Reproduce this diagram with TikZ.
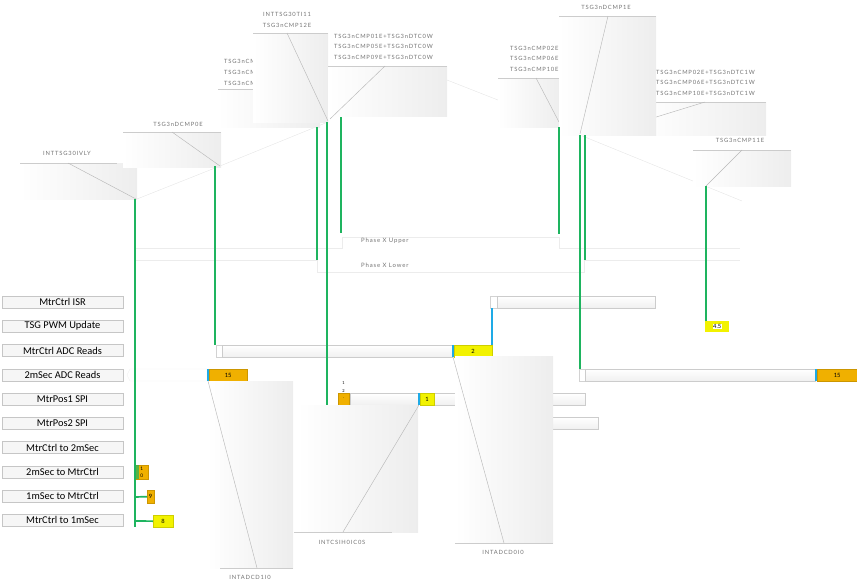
\documentclass[tikz,border=0pt]{standalone}
\usepackage{fontspec}
\setmainfont{Lato}
\newfontfamily\lblfont{Carlito}
\newfontfamily\tagfont[LetterSpace=14]{Lato}
\definecolor{trgreen}{RGB}{30,180,95}
\definecolor{trblue}{RGB}{30,170,230}
\definecolor{trorange}{RGB}{240,176,0}
\definecolor{tryellow}{RGB}{242,242,0}
\begin{document}
\begin{tikzpicture}[x=1pt,y=-1pt,
  grn/.style={draw=trgreen,line width=1.7pt},
  blu/.style={draw=trblue,line width=1.6pt},
  faint/.style={draw=gray!20,line width=0.4pt},
  frame/.style={draw=gray!15,line width=0.5pt},
  ptr/.style={draw=gray!55,line width=0.45pt},
  cshade/.style={left color=white,right color=gray!14},
  cedge/.style={draw=gray!40,line width=0.6pt},
  tag/.style={font=\tagfont\fontsize{5.8}{6.5}\selectfont,text=gray!90!black,inner sep=0pt},
  tagl/.style={tag,anchor=west},
  rowlbl/.style={draw=gray!45,fill=gray!7,minimum width=121pt,minimum height=12pt,inner sep=0pt,
    font=\lblfont\fontsize{10.4}{10.5}\selectfont},
  barbox/.style={draw=gray!40,top color=white,bottom color=gray!12,line width=0.5pt,inner sep=0pt},
  sqbox/.style={draw=gray!35,fill=white,line width=0.5pt},
  obox/.style={fill=trorange,draw=trorange!85!black,line width=0.3pt,inner sep=0pt,
    font=\fontsize{5.8}{6}\selectfont},
  ybox/.style={fill=tryellow,draw=tryellow!85!black,line width=0.3pt,inner sep=0pt,
    font=\fontsize{5.8}{6}\selectfont},
  phase/.style={font=\tagfont\fontsize{6}{6.5}\selectfont,text=gray!90!black,anchor=west,inner sep=0pt}]
\useasboundingbox (0,0) rectangle (857,584);

% ---- faint connecting lines between anchors ----
\draw[faint] (137,199) -- (220,166) -- (328,122);
\draw[faint] (447,80) -- (559,124);
\draw[faint] (580,135) -- (742,201);

% ---- phase frames ----
\draw[frame] (135,248) -- (342,248) -- (342,237) -- (559,237) -- (559,248) -- (740,248);
\draw[frame] (135,260) -- (317,260) -- (317,272) -- (584,272) -- (584,260) -- (740,260);
\node[phase] (pup) at (361,241) {Phase X Upper};
\node[phase] (plo) at (361,265) {Phase X Lower};

% ---- upper callouts ----
% INTTSG30IVLY
\shade[cshade] (20,163) rectangle (137,199);
\draw[cedge] (20,163) -- (117,163);
\draw[ptr] (68,163) -- (136,199);
\coordinate (c1) at (135,199);
\node[tag] (t1) at (67,153) {INTTSG30IVLY};
% TSG3nDCMP0E
\shade[cshade] (123,132) rectangle (221,167);
\draw[cedge] (123,132) -- (221,132);
\draw[ptr] (172,132) -- (220,166);
\coordinate (c2) at (215,166);
\node[tag] (t2) at (178,124) {TSG3nDCMP0E};
% partly covered callout
\node[tagl] (t3a) at (224,61) {TSG3nCMP03E+TSG3nDTC0U};
\node[tagl] (t3b) at (224,72) {TSG3nCMP07E+TSG3nDTC0U};
\node[tagl] (t3c) at (224,83) {TSG3nCMP11E+TSG3nDTC0U};
\shade[cshade] (218,89) rectangle (320,127);
\draw[cedge] (218,89) -- (253,89);
\coordinate (c3) at (317,127);
% INTTSG30TI11 / TSG3nCMP12E
\shade[cshade] (253,33) rectangle (328,122);
\draw[cedge] (253,33) -- (328,33);
\draw[ptr] (287,33) -- (328,121);
\coordinate (c4) at (327,122);
\node[tag] (t4a) at (287,14) {INTTSG30TI11};
\node[tag] (t4b) at (287,25) {TSG3nCMP12E};
% TSG3nCMP01E+TSG3nDTC0W ...
\shade[cshade] (328,66) rectangle (447,116);
\draw[cedge] (328,66) -- (447,66);
\draw[ptr] (385,66) -- (330,119);
\coordinate (c5) at (341,117);
\node[tagl] (t5a) at (334,36) {TSG3nCMP01E+TSG3nDTC0W};
\node[tagl] (t5b) at (334,46) {TSG3nCMP05E+TSG3nDTC0W};
\node[tagl] (t5c) at (334,57) {TSG3nCMP09E+TSG3nDTC0W};
% partly covered callout on the right
\node[tagl] (t6a) at (510,48) {TSG3nCMP02E+TSG3nDTC1U};
\node[tagl] (t6b) at (510,58) {TSG3nCMP06E+TSG3nDTC1U};
\node[tagl] (t6c) at (510,69) {TSG3nCMP10E+TSG3nDTC1U};
\shade[cshade] (498,78) rectangle (562,127);
\draw[cedge] (498,78) -- (560,78);
\draw[ptr] (536,78) -- (559,122);
\coordinate (c6) at (559,127);
% TSG3nCMP02E+TSG3nDTC1W ...
\node[tagl] (t8a) at (656,72) {TSG3nCMP02E+TSG3nDTC1W};
\node[tagl] (t8b) at (656,82) {TSG3nCMP06E+TSG3nDTC1W};
\node[tagl] (t8c) at (656,93) {TSG3nCMP10E+TSG3nDTC1W};
\shade[cshade] (640,102) rectangle (766,135);
\draw[cedge] (640,102) -- (766,102);
\draw[ptr] (705,102) -- (640,122);
% TSG3nDCMP1E
\shade[cshade] (559,16) rectangle (656,135);
\draw[cedge] (559,16) -- (656,16);
\draw[ptr] (608,16) -- (580,134);
\coordinate (c7) at (580,135);
\coordinate (c7b) at (585,135);
\node[tag] (t7) at (606,7) {TSG3nDCMP1E};
% TSG3nCMP11E
\shade[cshade] (693,150) rectangle (791,186);
\draw[cedge] (693,150) -- (791,150);
\draw[ptr] (742,150) -- (706,186);
\coordinate (c9) at (706,186);
\node[tag] (t9) at (740,140) {TSG3nCMP11E};

% ---- row labels ----
\foreach \nm/\yy/\txt in {r1/302/MtrCtrl ISR, r2/326.2/TSG PWM Update, r3/350.5/MtrCtrl ADC Reads,
  r4/374.8/2mSec ADC Reads, r5/399/MtrPos1 SPI, r6/423.2/MtrPos2 SPI, r7/447.5/MtrCtrl to 2mSec,
  r8/471.8/2mSec to MtrCtrl, r9/496/1mSec to MtrCtrl, r10/520.3/MtrCtrl to 1mSec}
  \node[rowlbl] (\nm) at (62.5,\yy) {\txt};

% ---- bars ----
% MtrCtrl ISR
\draw[sqbox] (490,296) rectangle (497,308);
\node[barbox,minimum width=158pt,minimum height=12pt,anchor=north west] (isr) at (497,296) {};
\coordinate (isrsq) at (492,308);
% MtrCtrl ADC Reads
\draw[sqbox] (216,345) rectangle (222,357);
\node[barbox,minimum width=230pt,minimum height=12pt,anchor=north west] (adc) at (222,345) {};
\fill[trblue] (451.5,345) rectangle (454,357);
\node[ybox,minimum width=38pt,minimum height=12pt,anchor=north west] (adcy) at (454,345) {2};
% 2mSec ADC Reads
\draw[draw=gray!12,fill=white] (130,369) -- (207,369) -- (207,381) -- (130,381) -- (127,375) -- cycle;
\fill[trblue] (206.5,369) rectangle (209,381);
\node[obox,minimum width=38pt,minimum height=12pt,anchor=north west] (ms2a) at (209,369) {15};
\draw[sqbox] (579,369) rectangle (585,381);
\node[barbox,minimum width=230pt,minimum height=12pt,anchor=north west] (ms2b) at (585,369) {};
\fill[trblue] (814.5,369) rectangle (817,381);
\node[obox,minimum width=40pt,minimum height=12pt,anchor=north west] (ms2o) at (817,369) {15};
% MtrPos1 SPI
\node[barbox,minimum width=151pt,minimum height=12pt,anchor=north west] (sp1c) at (434,393) {};
\node[obox,minimum width=11pt,minimum height=12pt,anchor=north west] (sp1o) at (338,393) {};
\node[barbox,minimum width=68pt,minimum height=12pt,anchor=north west] (sp1) at (350,393) {};
\fill[trblue] (417.5,393) rectangle (420,405);
\node[ybox,minimum width=14pt,minimum height=12pt,anchor=north west] (sp1y) at (420,393) {1};
\node[font=\fontsize{4}{4}\selectfont,inner sep=0pt] (sp1n1) at (343.5,383) {1};
\node[font=\fontsize{4}{4}\selectfont,inner sep=0pt] (sp1n2) at (343.5,391) {2};
\node[font=\fontsize{4}{4}\selectfont,inner sep=0pt] (sp1n3) at (343.5,398) {.};
% MtrPos2 SPI
\node[barbox,minimum width=138pt,minimum height=12pt,anchor=north west] (sp2) at (460,417) {};
% 4.5 marker
\node[fill=tryellow,minimum width=24pt,minimum height=11pt,inner sep=0pt,anchor=north west] (m45) at (705,321) {};
\node[fill=white,inner sep=0.6pt,font=\fontsize{5.8}{6}\selectfont] (m45t) at (m45.center) {4.5};
% left column markers
\node[obox,minimum width=13pt,minimum height=14pt,anchor=north west,align=center,
  font=\fontsize{4.8}{7}\selectfont] (m10) at (135,465) {1\\0};
\fill[trgreen,opacity=0.7] (135,465) rectangle (139,479);
\node[obox,minimum width=7pt,minimum height=13pt,anchor=north west] (m9) at (147,490) {9};
\node[ybox,minimum width=20pt,minimum height=12pt,anchor=north west] (m8) at (153,515) {8};

% ---- lower callouts ----
% INTADCD1I0
\shade[cshade] (207,381) rectangle (293,568);
\draw[cedge] (220,568) -- (293,568);
\draw[ptr] (208,381) -- (257,568);
\node[tag] (b1) at (250,577) {INTADCD1I0};
% INTCSIH0IC0S
\shade[cshade] (297,405) rectangle (418,532);
\draw[cedge] (294,532) -- (392,532);
\draw[ptr] (419,405) -- (343,532);
\node[tag] (b2) at (342,542) {INTCSIH0IC0S};
% INTADCD0I0
\shade[cshade] (455,356) rectangle (553,543);
\draw[cedge] (455,543) -- (553,543);
\draw[ptr] (453,357) -- (504,543);
\node[tag] (b3) at (503,552) {INTADCD0I0};

% ---- green connectors ----
\coordinate (lend) at (135,527);
\draw[grn] (c1) -- (lend);
\draw[grn] (c2) -- (c2 |- adc.north);
\draw[grn] (c3) -- (317,260);
\draw[grn] (c4) -- (327,405);
\draw[grn] (c5) -- (341,233);
\draw[grn] (c6) -- (559,234);
\draw[grn] (c7) -- (c7 |- ms2b.north);
\draw[grn] (c7b) -- (585,260);
\draw[grn] (c9) -- (c9 |- m45.north);
\draw[grn] (135,497) -- (m9.west);
\draw[grn] (135,521) -- (m8.west);
% blue link from ISR to ADC reads end
\draw[blu] (isrsq) -- (adcy.north east -| isrsq);
\end{tikzpicture}
\end{document}
